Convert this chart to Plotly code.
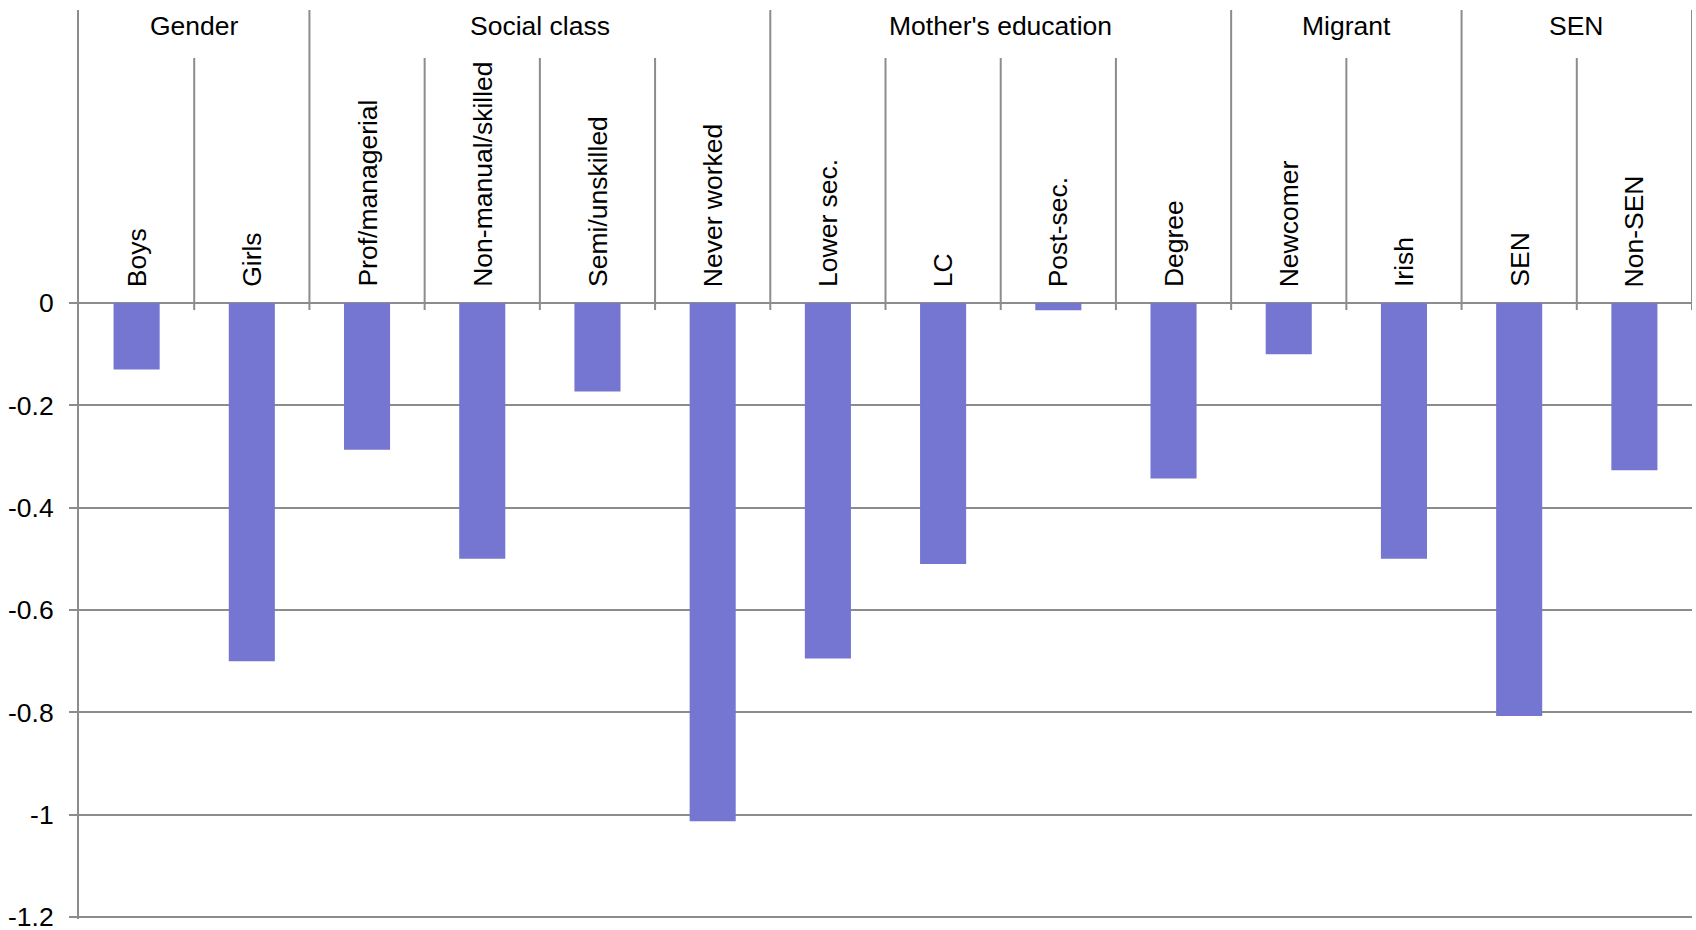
import plotly.graph_objects as go

# Category labels, grouped
groups = ["Gender", "Social class", "Mother's education", "Migrant", "SEN"]
group_members = [
    ["Boys", "Girls"],
    ["Prof/managerial", "Non-manual/skilled", "Semi/unskilled", "Never worked"],
    ["Lower sec.", "LC", "Post-sec.", "Degree"],
    ["Newcomer", "Irish"],
    ["SEN", "Non-SEN"],
]
values = [-0.13, -0.70, -0.287, -0.50, -0.173, -1.013, -0.695, -0.51, -0.014,
          -0.343, -0.10, -0.50, -0.807, -0.327]
y_ticks = [-1.2, -1.0, -0.8, -0.6, -0.4, -0.2, 0.0]
y_tick_labels = ["-1.2", "-1", "-0.8", "-0.6", "-0.4", "-0.2", "0"]

categories = [c for members in group_members for c in members]
xs = list(range(len(categories)))

FONT = "Liberation Sans, Arial, sans-serif"
FSIZE = 26.5
LINE = "#8c8c8c"
BAR = "#7576d1"
Y_BOTTOM = -1.204    # a hair below -1.2 so the bottom gridline and label show
Y_TOP = 0.5728       # top of the plotting region (header zone above zero)
Y_INNER_TOP = 0.479  # where the per-category dividers start
Y_DIV_BOTTOM = -0.0137

fig = go.Figure()
fig.add_trace(go.Bar(x=xs, y=values, width=0.4,
                     marker=dict(color=BAR, line=dict(width=0)),
                     showlegend=False))

shapes = []
annotations = []

# Dividers between categories; taller ones separate the groups
boundaries = []
pos = 0
for members in group_members:
    for k in range(len(members)):
        pos += 1
        boundaries.append((pos - 0.5, k == len(members) - 1))
for bx, is_group_edge in boundaries:
    shapes.append(dict(type="line", xref="x", yref="y", x0=bx, x1=bx,
                       y0=Y_DIV_BOTTOM, y1=Y_TOP if is_group_edge else Y_INNER_TOP,
                       line=dict(color=LINE, width=2), layer="above"))

# Category labels, rotated, sitting above the zero line
for x, c in zip(xs, categories):
    annotations.append(dict(x=x, y=0, xref="x", yref="y", text=c,
                            textangle=-90, showarrow=False, xanchor="center",
                            yanchor="bottom", yshift=14,
                            font=dict(family=FONT, size=FSIZE, color="black")))

# Group headings
start = 0
for g, members in zip(groups, group_members):
    center = start + (len(members) - 1) / 2
    annotations.append(dict(x=center, y=0.541, xref="x", yref="y", text=g,
                            showarrow=False, xanchor="center", yanchor="middle",
                            font=dict(family=FONT, size=FSIZE, color="black")))
    start += len(members)

fig.update_layout(
    width=1696, height=930,
    margin=dict(l=79, r=4, t=10, b=11),
    paper_bgcolor="white", plot_bgcolor="white",
    shapes=shapes, annotations=annotations,
    font=dict(family=FONT, size=FSIZE, color="black"),
)
fig.update_xaxes(range=[-0.5, len(categories) - 0.5], showticklabels=False,
                 showgrid=False, zeroline=False, ticks="", showline=False,
                 automargin=False)
fig.update_yaxes(range=[Y_BOTTOM, Y_TOP], tickvals=y_ticks, ticktext=y_tick_labels,
                 showgrid=True, gridcolor=LINE, gridwidth=2, zeroline=False,
                 showline=True, linecolor=LINE, linewidth=2,
                 ticks="outside", ticklen=8, tickwidth=2, tickcolor=LINE,
                 ticklabelstandoff=10, ticklabeloverflow="allow",
                 automargin=False,
                 tickfont=dict(family=FONT, size=FSIZE, color="black"))

fig.write_html("out.html")
